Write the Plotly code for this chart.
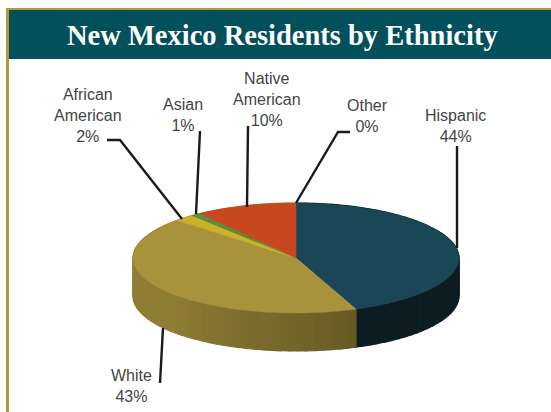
import math
import plotly.graph_objects as go

labels = ["Hispanic", "White", "African American", "Asian", "Native American", "Other"]
values = [44, 43, 2, 1, 10, 0]
top_colors = ["#1b4656", "#a8923c", "#c9b22a", "#5f8a3a", "#c8471f", "#8a8a8a"]
side_colors = ["#0c1c22", "#8f7d34", "#8f7d34", "#8f7d34", "#8f7d34", "#8f7d34"]
title_text = "New Mexico Residents by Ethnicity"

CX, CY, RX, RY, DEPTH = 296, 258, 163, 55, 38


def pt(deg, dy=0):
    r = math.radians(deg)
    return CX + RX * math.sin(r), CY - RY * math.cos(r) + dy


def shade(hex_color, f):
    return "#%02x%02x%02x" % tuple(int(int(hex_color[i:i+2], 16) * f) for i in (1, 3, 5))


fig = go.Figure()

# side walls, split into narrow strips so the shading can vary round the rim
start = 0
for v, c in zip(values, side_colors):
    end = start + v * 3.6
    a = start
    while a < end:
        b = min(a + 3, end)
        p0, p1 = pt(a), pt(b)
        q1, q0 = pt(b, DEPTH), pt(a, DEPTH)
        mid = (a + b) / 2
        f = 1.0
        if c == "#8f7d34":
            f = 0.72 + 0.28 * min(1, max(0, (mid - 158) / 70))
        col = shade(c, f)
        fig.add_trace(go.Scatter(x=[p0[0], p1[0], q1[0], q0[0], p0[0]],
                                 y=[p0[1], p1[1], q1[1], q0[1], p0[1]],
                                 mode="lines", fill="toself", fillcolor=col,
                                 line=dict(color=col, width=1.2), hoverinfo="skip", showlegend=False))
        a = b
    start = end

# top faces
start = 0
for lab, v, c in zip(labels, values, top_colors):
    end = start + v * 3.6
    if v > 0:
        n = max(4, int(v * 3))
        pts = [pt(start + (end - start) * i / n) for i in range(n + 1)]
        xs = [CX] + [p[0] for p in pts] + [CX]
        ys = [CY] + [p[1] for p in pts] + [CY]
        fig.add_trace(go.Scatter(x=xs, y=ys, mode="lines", fill="toself", fillcolor=c,
                                 line=dict(color=c, width=0.5), name=lab, showlegend=False))
    start = end

callouts = [
    ("Hispanic<br>44%", 455, 126, [457, 457], [146, 248]),
    ("Other<br>0%", 367, 116, [350, 338, 296], [132, 132, 203]),
    ("Native<br>American<br>10%", 267, 99, [248, 247], [126, 207]),
    ("Asian<br>1%", 183, 115, [200, 196], [131, 214]),
    ("African<br>American<br>2%", 88, 115, [107, 120, 182], [140, 140, 219]),
    ("White<br>43%", 131, 386, [160, 163], [383, 328]),
]
for text, tx, ty, lx, ly in callouts:
    fig.add_trace(go.Scatter(x=lx, y=ly, mode="lines", line=dict(color="#1a1a1a", width=2.4),
                             hoverinfo="skip", showlegend=False))
    fig.add_annotation(x=tx, y=ty, text=text, showarrow=False, xanchor="center", yanchor="middle",
                       font=dict(family="Liberation Sans", size=16, color="#444444"))

fig.add_annotation(x=282, y=35, text="<b>" + title_text + "</b>", showarrow=False,
                   font=dict(family="Liberation Serif", size=28.5, color="white"))

fig.update_layout(
    width=551, height=412, margin=dict(l=0, r=0, t=0, b=0),
    paper_bgcolor="white", plot_bgcolor="white",
    xaxis=dict(range=[0, 551], visible=False, fixedrange=True),
    yaxis=dict(range=[412, 0], visible=False, fixedrange=True),
    shapes=[
        dict(type="rect", x0=6, x1=551, y0=8, y1=412, line_width=0, fillcolor="#b3983c", layer="below"),
        dict(type="rect", x0=9, x1=551, y0=10, y1=412, line_width=0, fillcolor="white", layer="below"),
        dict(type="rect", x0=9, x1=551, y0=10, y1=59, line_width=0, fillcolor="#01505c", layer="below"),
    ],
)
fig.write_html("out.html", config={"displayModeBar": False},
               post_script="document.body.style.margin='0';document.body.style.overflow='hidden';")
